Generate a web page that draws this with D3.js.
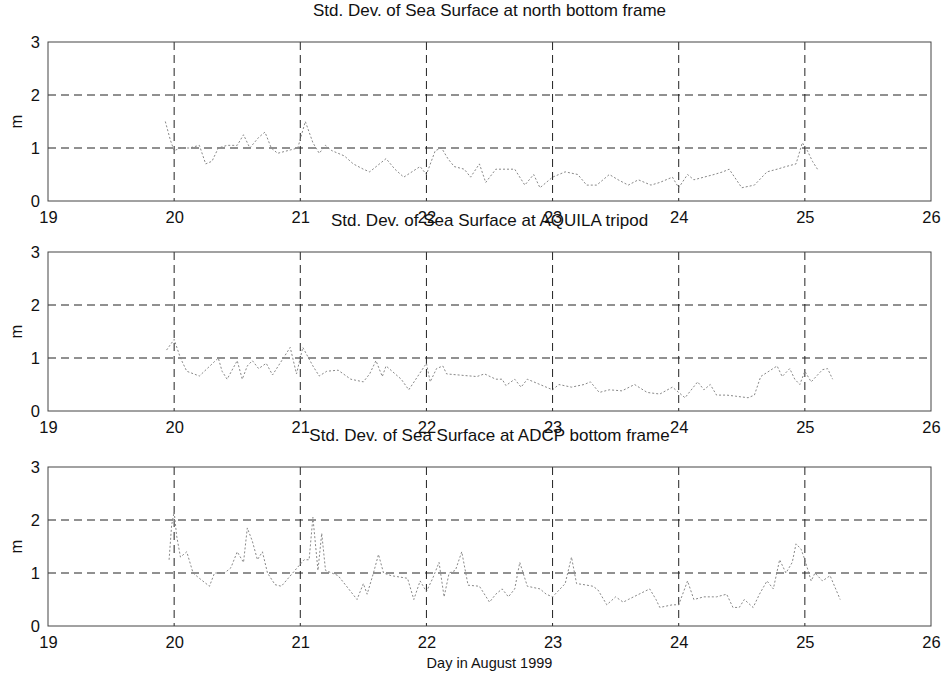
<!DOCTYPE html>
<html>
  <head>
    <title>Std. Dev. of Sea Surface</title>
    <script src="https://d3js.org/d3.v7.min.js"></script>
    <style>
      body { margin: 0; background: #fff; }
      text { font-family: "Liberation Sans", Arial, sans-serif; fill: #111; }
    </style>
  </head>
  <body>
    <div id="chart"></div>
    <script>
// Data (day in August 1999, std. dev. in m)
const northDays = [19.93, 19.97, 20.0, 20.05, 20.12, 20.2, 20.25, 20.3, 20.35, 20.42, 20.5, 20.55, 20.6, 20.67, 20.72, 20.77, 20.82,
  20.98, 21.04, 21.1, 21.15, 21.2, 21.25, 21.35, 21.42, 21.5, 21.55, 21.68, 21.75, 21.82, 21.95, 22.0, 22.07, 22.12, 22.17,
  22.22, 22.3, 22.35, 22.42, 22.47, 22.55, 22.7, 22.78, 22.85, 22.9, 23.0, 23.1, 23.2, 23.27, 23.35, 23.45, 23.52, 23.6,
  23.68, 23.78, 23.85, 23.95, 24.0, 24.07, 24.12, 24.2, 24.28, 24.35, 24.4, 24.5, 24.6, 24.7, 24.78, 24.85, 24.93, 24.98,
  25.02, 25.06, 25.1];
const northVals = [1.5, 1.15, 0.95, 1.0, 1.0, 1.05, 0.7, 0.75, 1.0, 1.05, 1.05, 1.25, 1.0, 1.2, 1.3, 1.0, 0.9,
  1.0, 1.5, 1.1, 0.9, 1.05, 0.95, 0.85, 0.7, 0.6, 0.55, 0.8, 0.6, 0.45, 0.65, 0.5, 0.95, 1.0, 0.8,
  0.65, 0.6, 0.45, 0.7, 0.35, 0.6, 0.6, 0.3, 0.5, 0.25, 0.45, 0.55, 0.5, 0.3, 0.3, 0.5, 0.4, 0.3,
  0.4, 0.3, 0.35, 0.45, 0.25, 0.5, 0.4, 0.45, 0.5, 0.55, 0.6, 0.25, 0.3, 0.55, 0.6, 0.65, 0.7, 1.1,
  0.95, 0.75, 0.6];

const aquilaDays = [19.94, 20.0, 20.05, 20.1, 20.2, 20.35, 20.38, 20.42, 20.5, 20.54, 20.58, 20.62, 20.67, 20.73, 20.78,
  20.92, 20.97, 21.02, 21.1, 21.15, 21.21, 21.3, 21.4, 21.5, 21.55, 21.6, 21.65, 21.68, 21.8, 21.86, 22.0, 22.03, 22.08,
  22.13, 22.16, 22.3, 22.4, 22.46, 22.55, 22.6, 22.63, 22.7, 22.75, 22.8, 22.9, 23.0, 23.05, 23.15, 23.25, 23.3, 23.37,
  23.45, 23.55, 23.65, 23.75, 23.85, 23.95, 24.05, 24.15, 24.2, 24.25, 24.3, 24.38, 24.45, 24.55, 24.6, 24.65, 24.78,
  24.82, 24.88, 24.92, 24.96, 25.0, 25.05, 25.14, 25.18, 25.22];
const aquilaVals = [1.15, 1.35, 1.0, 0.75, 0.66, 1.0, 0.75, 0.6, 0.95, 0.6, 0.85, 0.95, 0.8, 0.9, 0.68,
  1.2, 0.7, 1.2, 0.85, 0.66, 0.75, 0.77, 0.6, 0.55, 0.7, 0.95, 0.65, 0.85, 0.6, 0.4, 0.9, 0.55, 0.8,
  0.85, 0.7, 0.67, 0.65, 0.7, 0.6, 0.6, 0.48, 0.6, 0.45, 0.6, 0.5, 0.4, 0.5, 0.45, 0.5, 0.55, 0.35,
  0.4, 0.38, 0.5, 0.35, 0.32, 0.45, 0.25, 0.55, 0.4, 0.5, 0.3, 0.3, 0.28, 0.25, 0.3, 0.65, 0.85,
  0.65, 0.8, 0.6, 0.5, 0.75, 0.55, 0.78, 0.8, 0.6];

const adcpDays = [19.96, 19.98, 20.0, 20.02, 20.05, 20.1, 20.15, 20.2, 20.28, 20.32, 20.4, 20.45, 20.5, 20.55, 20.58,
  20.62, 20.66, 20.7, 20.74, 20.8, 20.85, 21.03, 21.07, 21.1, 21.14, 21.17, 21.2, 21.25, 21.3, 21.45, 21.5, 21.53,
  21.58, 21.62, 21.66, 21.72, 21.85, 21.9, 21.95, 22.0, 22.05, 22.1, 22.14, 22.18, 22.23, 22.28, 22.33, 22.42, 22.5,
  22.55, 22.6, 22.65, 22.7, 22.74, 22.8, 22.9, 22.95, 23.0, 23.1, 23.15, 23.19, 23.25, 23.32, 23.36, 23.43, 23.5,
  23.56, 23.6, 23.77, 23.82, 23.85, 23.95, 24.0, 24.07, 24.12, 24.2, 24.3, 24.38, 24.43, 24.48, 24.52, 24.59, 24.64,
  24.7, 24.75, 24.8, 24.85, 24.9, 24.93, 24.97, 25.0, 25.05, 25.08, 25.14, 25.2, 25.28];
const adcpVals = [1.25, 1.9, 2.15, 1.7, 1.3, 1.4, 1.0, 0.9, 0.75, 1.0, 1.0, 1.1, 1.4, 1.2, 1.85,
  1.6, 1.25, 1.4, 1.0, 0.78, 0.75, 1.25, 1.25, 2.05, 1.05, 1.75, 1.05, 1.0, 0.95, 0.5, 0.8, 0.6,
  1.0, 1.35, 1.0, 0.95, 0.9, 0.5, 0.85, 0.65, 0.9, 1.2, 0.55, 1.0, 1.05, 1.4, 0.77, 0.75, 0.45,
  0.6, 0.7, 0.55, 0.7, 1.2, 0.75, 0.7, 0.6, 0.55, 0.8, 1.3, 0.8, 0.78, 0.75, 0.68, 0.4, 0.55,
  0.45, 0.5, 0.7, 0.5, 0.35, 0.4, 0.4, 0.85, 0.5, 0.55, 0.55, 0.6, 0.35, 0.35, 0.5, 0.35, 0.6,
  0.85, 0.7, 1.25, 1.0, 1.2, 1.55, 1.45, 1.25, 0.85, 1.0, 0.85, 0.95, 0.5];

const panelTitles = [
  "Std. Dev. of Sea Surface at north bottom frame",
  "Std. Dev. of Sea Surface at AQUILA tripod",
  "Std. Dev. of Sea Surface at ADCP bottom frame"
];
const xTicks = [19, 20, 21, 22, 23, 24, 25, 26];
const yTicks = [0, 1, 2, 3];

const width = 944;
const height = 679;
const marginLeft = 48;
const marginRight = 13;
const panelTops = [42, 252, 467];
const panelHeight = 159;

const svg = d3.select("#chart").append("svg")
  .attr("width", width)
  .attr("height", height)
  .attr("viewBox", [0, 0, width, height]);

const x = d3.scaleLinear()
  .domain([19, 26])
  .range([marginLeft, width - marginRight]);

const series = [
  northDays.map((d, i) => [d, northVals[i]]),
  aquilaDays.map((d, i) => [d, aquilaVals[i]]),
  adcpDays.map((d, i) => [d, adcpVals[i]])
];

panelTops.forEach((top, p) => {
  const y = d3.scaleLinear()
    .domain([0, 3])
    .range([top + panelHeight, top]);

  const g = svg.append("g");

  // grid lines
  g.append("g")
    .selectAll("line")
    .data(xTicks.slice(1, -1))
    .join("line")
    .attr("x1", d => x(d)).attr("x2", d => x(d))
    .attr("y1", top).attr("y2", top + panelHeight)
    .attr("stroke", "#222")
    .attr("stroke-width", 1)
    .attr("stroke-dasharray", "8,5");

  g.append("g")
    .selectAll("line")
    .data(yTicks.slice(1, -1))
    .join("line")
    .attr("x1", marginLeft).attr("x2", width - marginRight)
    .attr("y1", d => y(d)).attr("y2", d => y(d))
    .attr("stroke", "#222")
    .attr("stroke-width", 1)
    .attr("stroke-dasharray", "8,5");

  // data line
  g.append("path")
    .datum(series[p])
    .attr("fill", "none")
    .attr("stroke", "#888")
    .attr("stroke-width", 1)
    .attr("stroke-dasharray", "2,2")
    .attr("d", d3.line().x(d => x(d[0])).y(d => y(d[1])));

  // box
  g.append("rect")
    .attr("x", marginLeft)
    .attr("y", top)
    .attr("width", width - marginRight - marginLeft)
    .attr("height", panelHeight)
    .attr("fill", "none")
    .attr("stroke", "#444")
    .attr("stroke-width", 1);

  // axes
  const xAxis = g.append("g")
    .attr("transform", `translate(0,${top + panelHeight})`)
    .call(d3.axisBottom(x).tickValues(xTicks).tickFormat(d3.format("d")).tickSize(0).tickPadding(10));
  xAxis.select(".domain").remove();
  xAxis.selectAll("text").style("font-size", "16.5px").attr("fill", "#111");

  const yAxis = g.append("g")
    .attr("transform", `translate(${marginLeft},0)`)
    .call(d3.axisLeft(y).tickValues(yTicks).tickFormat(d3.format("d")).tickSize(0).tickPadding(8));
  yAxis.select(".domain").remove();
  yAxis.selectAll("text").style("font-size", "16.5px").attr("fill", "#111");

  // y label
  g.append("text")
    .attr("transform", `translate(22,${top + panelHeight / 2}) rotate(-90)`)
    .attr("text-anchor", "middle")
    .style("font-size", "16.5px")
    .text("m");

  // title
  g.append("text")
    .attr("x", (marginLeft + width - marginRight) / 2)
    .attr("y", top - 26)
    .attr("text-anchor", "middle")
    .style("font-size", "17px")
    .text(panelTitles[p]);
});

svg.append("text")
  .attr("x", (marginLeft + width - marginRight) / 2)
  .attr("y", 668)
  .attr("text-anchor", "middle")
  .style("font-size", "14.5px")
  .text("Day in August 1999");
    </script>
  </body>
</html>
